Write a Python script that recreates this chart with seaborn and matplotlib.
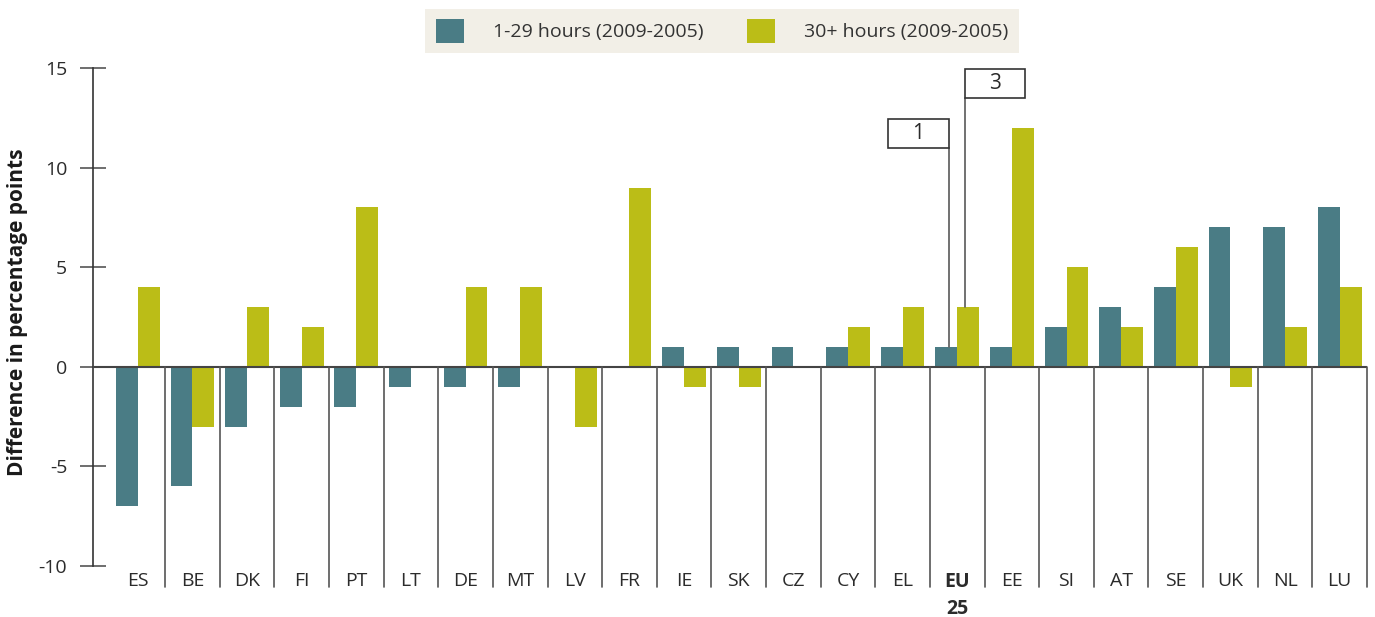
import matplotlib
matplotlib.use('Agg')
import matplotlib.pyplot as plt
from matplotlib.patches import Rectangle
import pandas as pd
import seaborn as sns

paises = ['ES', 'BE', 'DK', 'FI', 'PT', 'LT', 'DE', 'MT', 'LV', 'FR', 'IE', 'SK',
          'CZ', 'CY', 'EL', 'EU\n25', 'EE', 'SI', 'AT', 'SE', 'UK', 'NL', 'LU']
corta = [-7, -6, -3, -2, -2, -1, -1, -1, 0, 0, 1, 1, 1, 1, 1, 1, 1, 2, 3, 4, 7, 7, 8]
larga = [4, -3, 3, 2, 8, 0, 4, 4, -3, 9, -1, -1, 0, 2, 3, 3, 12, 5, 2, 6, -1, 2, 4]
series = ['1-29 hours (2009-2005)', '30+ hours (2009-2005)']
colores = ['#4a7c85', '#bbbd17']

datos = pd.DataFrame({
    'pais': paises * 2,
    'valor': corta + larga,
    'serie': [series[0]] * len(paises) + [series[1]] * len(paises),
})

sns.set_theme(style='white')
plt.rcParams['font.family'] = ['Open Sans', 'DejaVu Sans']

fig = plt.figure(figsize=(13.75, 6.17), dpi=100)
ax = fig.add_axes([93 / 1375, 1 - 566 / 617, (1367 - 93) / 1375, (566 - 68) / 617])

sns.barplot(data=datos, x='pais', y='valor', hue='serie', order=paises,
            hue_order=series, palette=colores, saturation=1, width=0.8,
            linewidth=0, ax=ax)

ax.set_xlim(-0.82, len(paises) - 0.5)
ax.set_ylim(-10, 15)
ax.set_yticks([-10, -5, 0, 5, 10, 15])
ax.set_yticklabels(['-10', '-5', '0', '5', '10', '15'])

for s in ['top', 'right', 'bottom']:
    ax.spines[s].set_visible(False)
ax.spines['left'].set_color('#333333')
ax.spines['left'].set_linewidth(1.2)

ax.tick_params(axis='y', direction='inout', length=19, width=1.2, color='#555555',
               labelsize=14, labelcolor='#2b2b2b', pad=9, left=True)
ax.tick_params(axis='x', length=0, labelsize=14, labelcolor='#2b2b2b', pad=4)
for lab in ax.get_xticklabels():
    if lab.get_text().startswith('EU'):
        lab.set_fontweight('bold')
    lab.set_linespacing(1.5)

ax.set_xlabel('')
ax.set_ylabel('Difference in percentage points', fontsize=15, fontweight='bold',
              color='#1a1a1a')
ax.yaxis.set_label_coords(-0.051, 0.51)

# linea del cero y separadores
ax.plot([-0.82, len(paises) - 0.5], [0, 0], color='#444444', lw=1.5, zorder=3)
for i in range(len(paises)):
    ax.plot([i + 0.5, i + 0.5], [0, -11.05], color='#555555', lw=1.2,
            clip_on=False, zorder=3)

# cuadros del EU25
idx = paises.index('EU\n25')
barra_a = ax.patches[idx]
barra_b = ax.patches[len(paises) + idx]
xa = barra_a.get_x() + barra_a.get_width() * 0.6
xb = barra_b.get_x() + barra_b.get_width() * 0.36
ax.plot([xa, xa], [corta[idx], 11.0], color='#666666', lw=1.3, zorder=4)
ax.plot([xb, xb], [larga[idx], 13.5], color='#666666', lw=1.3, zorder=4)
ax.add_patch(Rectangle((xa - 1.1, 11.0), 1.1, 1.45, facecolor='white',
                       edgecolor='#333333', lw=1.2, zorder=5))
ax.add_patch(Rectangle((xb, 13.5), 1.1, 1.45, facecolor='white',
                       edgecolor='#333333', lw=1.2, zorder=5, clip_on=False))
ax.text(xa - 0.55, 11.72, str(corta[idx]), ha='center', va='center', fontsize=15,
        color='#2b2b2b', zorder=6)
ax.text(xb + 0.55, 14.22, str(larga[idx]), ha='center', va='center', fontsize=15,
        color='#2b2b2b', zorder=6)

sns.move_legend(ax, 'center', bbox_to_anchor=(722 / 1375, 1 - 31 / 617),
                bbox_transform=fig.transFigure, ncol=2, title=None, frameon=True,
                fontsize=14, handlelength=1.45, handleheight=1.45, handletextpad=1.5,
                columnspacing=2.2, borderpad=0.55, borderaxespad=0, fancybox=False)
leg = ax.get_legend()
leg.get_frame().set_facecolor('#efebe1')
leg.get_frame().set_edgecolor('none')
for t in leg.get_texts():
    t.set_color('#333333')

fig.savefig('out.png', dpi=100)
